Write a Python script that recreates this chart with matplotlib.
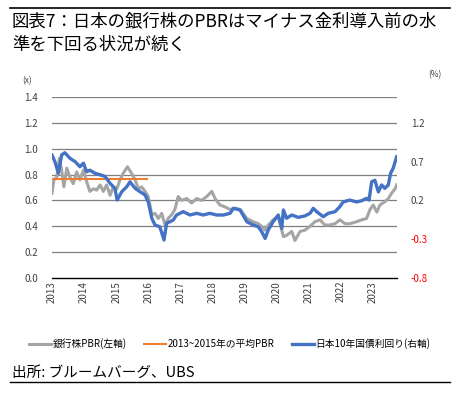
import matplotlib
matplotlib.use("Agg")
import matplotlib.pyplot as plt
from matplotlib.lines import Line2D

plt.rcParams['font.family'] = ['Noto Sans CJK JP', 'DejaVu Sans']

# ---- data (decimal years) ----
pbr_t = [2013.00, 2013.06, 2013.15, 2013.23, 2013.30, 2013.37, 2013.46, 2013.56, 2013.66, 2013.77,
         2013.87, 2013.98, 2014.08, 2014.18, 2014.29, 2014.39, 2014.50, 2014.60, 2014.70, 2014.81,
         2014.91, 2015.02, 2015.12, 2015.22, 2015.35, 2015.48, 2015.59, 2015.69, 2015.79, 2015.90,
         2016.00, 2016.11, 2016.21, 2016.31, 2016.42, 2016.52, 2016.62, 2016.73, 2016.83, 2016.93,
         2017.04, 2017.20, 2017.35, 2017.51, 2017.66, 2017.82, 2017.98, 2018.08, 2018.23, 2018.39,
         2018.55, 2018.70, 2018.86, 2019.07, 2019.27, 2019.43, 2019.53, 2019.64, 2019.74, 2019.89,
         2020.05, 2020.16, 2020.21, 2020.31, 2020.47, 2020.57, 2020.73, 2020.88, 2021.04, 2021.19,
         2021.35, 2021.50, 2021.66, 2021.82, 2021.97, 2022.13, 2022.28, 2022.49, 2022.65, 2022.80,
         2022.91, 2023.01, 2023.12, 2023.22, 2023.37, 2023.48, 2023.58, 2023.69, 2023.74]
pbr_v = [0.655, 0.76, 0.78, 0.925, 0.835, 0.705, 0.85, 0.78, 0.73, 0.82,
         0.76, 0.835, 0.745, 0.67, 0.69, 0.68, 0.72, 0.67, 0.72, 0.64,
         0.705, 0.69, 0.76, 0.81, 0.86, 0.81, 0.76, 0.69, 0.705, 0.67,
         0.63, 0.49, 0.50, 0.46, 0.50, 0.41, 0.46, 0.49, 0.53, 0.63,
         0.60, 0.615, 0.58, 0.615, 0.60, 0.63, 0.67, 0.615, 0.565, 0.55,
         0.53, 0.54, 0.53, 0.46, 0.435, 0.42, 0.40, 0.37, 0.41, 0.45,
         0.475, 0.37, 0.32, 0.33, 0.36, 0.29, 0.36, 0.37, 0.40, 0.435,
         0.45, 0.41, 0.41, 0.42, 0.45, 0.42, 0.42, 0.435, 0.45, 0.46,
         0.53, 0.565, 0.51, 0.565, 0.59, 0.615, 0.655, 0.69, 0.72]

avg_t = [2013.0, 2015.95]
avg_v = [0.763, 0.763]

jgb_t = [2013.00, 2013.09, 2013.20, 2013.30, 2013.40, 2013.56, 2013.72, 2013.87, 2013.98, 2014.08,
         2014.18, 2014.34, 2014.50, 2014.65, 2014.81, 2014.96, 2015.03, 2015.17, 2015.33, 2015.43,
         2015.59, 2015.75, 2015.90, 2016.00, 2016.11, 2016.21, 2016.36, 2016.49, 2016.57, 2016.68,
         2016.78, 2016.88, 2017.09, 2017.30, 2017.51, 2017.71, 2017.92, 2018.13, 2018.34, 2018.55,
         2018.65, 2018.86, 2019.07, 2019.27, 2019.43, 2019.53, 2019.64, 2019.74, 2019.89, 2020.05,
         2020.16, 2020.21, 2020.31, 2020.47, 2020.67, 2020.88, 2021.04, 2021.14, 2021.25, 2021.45,
         2021.61, 2021.82, 2021.97, 2022.07, 2022.28, 2022.49, 2022.65, 2022.80, 2022.88, 2022.96,
         2023.06, 2023.17, 2023.27, 2023.37, 2023.48, 2023.55, 2023.63, 2023.74]
jgb_v = [0.785, 0.70, 0.55, 0.785, 0.815, 0.743, 0.70, 0.635, 0.68, 0.57,
         0.59, 0.55, 0.53, 0.51, 0.42, 0.356, 0.205, 0.31, 0.377, 0.44,
         0.356, 0.31, 0.27, 0.18, -0.03, -0.117, -0.14, -0.31, -0.095, -0.074,
         -0.052, 0.012, 0.055, 0.012, 0.034, 0.012, 0.034, 0.012, 0.012, 0.034,
         0.098, 0.077, -0.074, -0.117, -0.14, -0.20, -0.29, -0.18, -0.074, 0.012,
         -0.16, 0.077, -0.03, 0.012, -0.018, 0.0, 0.034, 0.098, 0.055, -0.01,
         0.034, 0.055, 0.12, 0.18, 0.205, 0.18, 0.196, 0.227, 0.205, 0.44,
         0.46, 0.31, 0.40, 0.356, 0.40, 0.55, 0.614, 0.764]

years = list(range(2013, 2024))
left_ticks = [0.0, 0.2, 0.4, 0.6, 0.8, 1.0, 1.2, 1.4]
right_ticks = [-0.8, -0.3, 0.2, 0.7, 1.2]

title = "図表7：日本の銀行株のPBRはマイナス金利導入前の水\n準を下回る状況が続く"
labels = ["銀行株PBR(左軸)", "2013~2015年の平均PBR", "日本10年国債利回り(右軸)"]
source = "出所: ブルームバーグ、UBS"

C_GREY = "#A5A5A5"
C_ORANGE = "#ED7D31"
C_BLUE = "#4472C4"

fig = plt.figure(figsize=(4.6, 3.96), dpi=100)
ax = fig.add_axes([52/460, 1-278/396, (397-52)/460, (278-97)/396])
ax2 = ax.twinx()

ax.set_xlim(2013, 2023.75)
ax.set_ylim(0, 1.4)
ax2.set_ylim(-0.8, -0.8 + 1.4 * 5 / 3)

for y in left_ticks[1:]:
    ax.axhline(y, color="#7F7F7F", lw=0.9, zorder=0)

ax.plot(pbr_t, pbr_v, color=C_GREY, lw=2.2, zorder=2)
ax.plot(avg_t, avg_v, color=C_ORANGE, lw=1.5, zorder=3)
ax2.plot(jgb_t, jgb_v, color=C_BLUE, lw=2.4, zorder=4)

for s in ["top", "right", "left"]:
    ax.spines[s].set_visible(False)
    ax2.spines[s].set_visible(False)
ax2.spines["bottom"].set_visible(False)
ax.spines["bottom"].set_color("black")
ax.spines["bottom"].set_linewidth(1.0)

ax.set_xticks(years)
ax.set_xticklabels([str(y) for y in years], rotation=90, fontsize=7, color="#404040")
ax.tick_params(axis="x", length=0, pad=2)
ax.set_yticks(left_ticks)
ax.set_yticklabels([f"{v:.1f}" for v in left_ticks], fontsize=7, color="#404040")
ax.tick_params(axis="y", length=0, pad=10)

ax2.set_yticks(right_ticks)
ax2.set_yticklabels([f"{v:.1f}" for v in right_ticks], fontsize=7)
ax2.tick_params(axis="y", length=0, pad=10)
for lab, v in zip(ax2.get_yticklabels(), right_ticks):
    lab.set_color("red" if v < 0 else "#404040")

fig.text(22/460, 1-81/396, "(x)", fontsize=6, color="#404040", ha="left", va="center")
fig.text(428/460, 1-75/396, "(%)", fontsize=6, color="#404040", ha="left", va="center")

# title and rules
fig.add_artist(Line2D([10/460, 450/460], [1-8/396, 1-8/396], color="black", lw=1.2))
fig.text(12/460, 1-12/396, title, fontsize=12.5, ha="left", va="top", linespacing=1.45)

# legend
handles = [Line2D([], [], color=C_GREY, lw=2.2),
           Line2D([], [], color=C_ORANGE, lw=1.5),
           Line2D([], [], color=C_BLUE, lw=2.4)]
fig.legend(handles, labels, loc="center", bbox_to_anchor=(0.5, 1-344/396), ncol=3,
           frameon=False, fontsize=7, handlelength=2.2, handletextpad=0.2, columnspacing=1.8)

fig.text(12/460, 1-373/396, source, fontsize=10.5, ha="left", va="center")
fig.add_artist(Line2D([10/460, 450/460], [1-382/396, 1-382/396], color="black", lw=1.0))

fig.savefig("out.png", dpi=100)
